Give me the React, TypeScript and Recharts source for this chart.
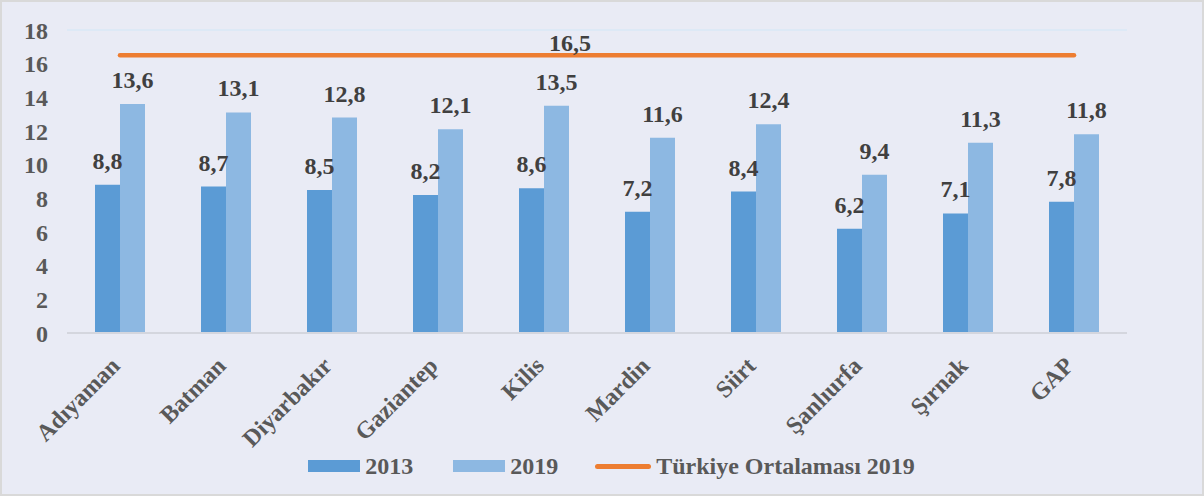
import React from 'react';
import { ComposedChart, Bar, Line, XAxis, YAxis, CartesianGrid, LabelList, Legend } from 'recharts';

const categories = ['Adıyaman', 'Batman', 'Diyarbakır', 'Gaziantep', 'Kilis', 'Mardin', 'Siirt', 'Şanlıurfa', 'Şırnak', 'GAP'];
const values2013 = [8.8, 8.7, 8.5, 8.2, 8.6, 7.2, 8.4, 6.2, 7.1, 7.8];
const values2019 = [13.6, 13.1, 12.8, 12.1, 13.5, 11.6, 12.4, 9.4, 11.3, 11.8];
const turkiye2019 = [16.5, 16.5, 16.5, 16.5, 16.5, 16.5, 16.5, 16.5, 16.5, 16.5];
const yTicks = [0, 2, 4, 6, 8, 10, 12, 14, 16, 18];
const lineLabelIndex = 4;

const data = categories.map((c, i) => ({
  name: c,
  y2013: values2013[i],
  y2019: values2019[i],
  tr: turkiye2019[i],
}));

const FONT = '"Liberation Serif", "Times New Roman", serif';
const C2013 = '#5B9BD5';
const C2019 = '#8DB8E2';
const CORANGE = '#ED7D31';
const TEXT = '#595959';
const LABEL = '#404040';
const FS = 24;

const fmt = (v: number) => v.toFixed(1).replace('.', ',');

const XTick = (props: any) => {
  const { x, y, payload } = props;
  return (
    <g transform={`translate(${x - 3},${y + 22})`}>
      <text
        transform="rotate(-45)"
        textAnchor="end"
        fontFamily={FONT}
        fontWeight="bold"
        fontSize={FS}
        fill={TEXT}
        dy={6}
      >
        {payload.value}
      </text>
    </g>
  );
};

const LineLabel = (props: any) => {
  const { x, y, index, value } = props;
  if (index !== lineLabelIndex) return null;
  return (
    <text
      x={x + 26}
      y={y - 4}
      textAnchor="middle"
      fontFamily={FONT}
      fontWeight="bold"
      fontSize={FS}
      fill={LABEL}
    >
      {fmt(value)}
    </text>
  );
};

const LegendContent = () => {
  const item = (swatch: React.ReactNode, label: string, key: string, gap: number) => (
    <div key={key} style={{ display: 'flex', alignItems: 'center', marginRight: gap }}>
      {swatch}
      <span style={{ marginLeft: 5, fontFamily: FONT, fontWeight: 'bold', fontSize: FS, color: TEXT }}>{label}</span>
    </div>
  );
  return (
    <div style={{ height: 56, display: 'flex', justifyContent: 'center', alignItems: 'center', paddingLeft: 19 }}>
      {item(<div style={{ width: 52, height: 12, background: C2013 }} />, '2013', 'a', 40)}
      {item(<div style={{ width: 52, height: 12, background: C2019 }} />, '2019', 'b', 37)}
      {item(<div style={{ width: 56, height: 5, borderRadius: 3, background: CORANGE }} />, 'Türkiye Ortalaması 2019', 'c', 0)}
    </div>
  );
};

export default function App() {
  return (
    <div style={{ position: 'absolute', top: 0, left: 0, width: 1204, height: 496, background: '#E9EBF5', boxSizing: 'border-box', border: '2px solid #D9D9D9' }}>
      <ComposedChart
        width={1200}
        height={492}
        data={data}
        margin={{ top: 28, right: 0, left: 0, bottom: 0 }}
        barGap={0}
        barSize={25}
      >
        <CartesianGrid vertical={false} stroke="#DDE9F6" strokeWidth={2} />
        <XAxis
          dataKey="name"
          height={105}
          tick={<XTick />}
          tickLine={false}
          axisLine={{ stroke: '#D4D6DE', strokeWidth: 2 }}
          interval={0}
        />
        <YAxis
          yAxisId="left"
          width={65}
          domain={[0, 18]}
          ticks={yTicks}
          tickLine={false}
          axisLine={false}
          tickMargin={13}
          tick={{ fontFamily: FONT, fontWeight: 'bold', fontSize: FS, fill: TEXT }}
        />
        <YAxis
          yAxisId="right"
          orientation="right"
          width={75}
          domain={[0, 18]}
          ticks={yTicks}
          tickLine={false}
          axisLine={false}
          tickMargin={15}
          tick={{ fontFamily: FONT, fontWeight: 'bold', fontSize: FS, fill: TEXT, textAnchor: 'start' }}
        />
        <Bar yAxisId="left" dataKey="y2013" name="2013" fill={C2013} isAnimationActive={false}>
          <LabelList
            dataKey="y2013"
            position="top"
            offset={16}
            formatter={(v: any) => fmt(Number(v))}
            style={{ fontFamily: FONT, fontWeight: 'bold', fontSize: FS, fill: LABEL }}
          />
        </Bar>
        <Bar yAxisId="left" dataKey="y2019" name="2019" fill={C2019} isAnimationActive={false}>
          <LabelList
            dataKey="y2019"
            position="top"
            offset={16}
            formatter={(v: any) => fmt(Number(v))}
            style={{ fontFamily: FONT, fontWeight: 'bold', fontSize: FS, fill: LABEL }}
          />
        </Bar>
        <Line
          yAxisId="left"
          dataKey="tr"
          name="Türkiye Ortalaması 2019"
          stroke={CORANGE}
          strokeWidth={4.5}
          strokeLinecap="round"
          dot={false}
          activeDot={false}
          isAnimationActive={false}
        >
          <LabelList dataKey="tr" content={<LineLabel />} />
        </Line>
        <Legend verticalAlign="bottom" content={<LegendContent />} />
      </ComposedChart>
    </div>
  );
}
